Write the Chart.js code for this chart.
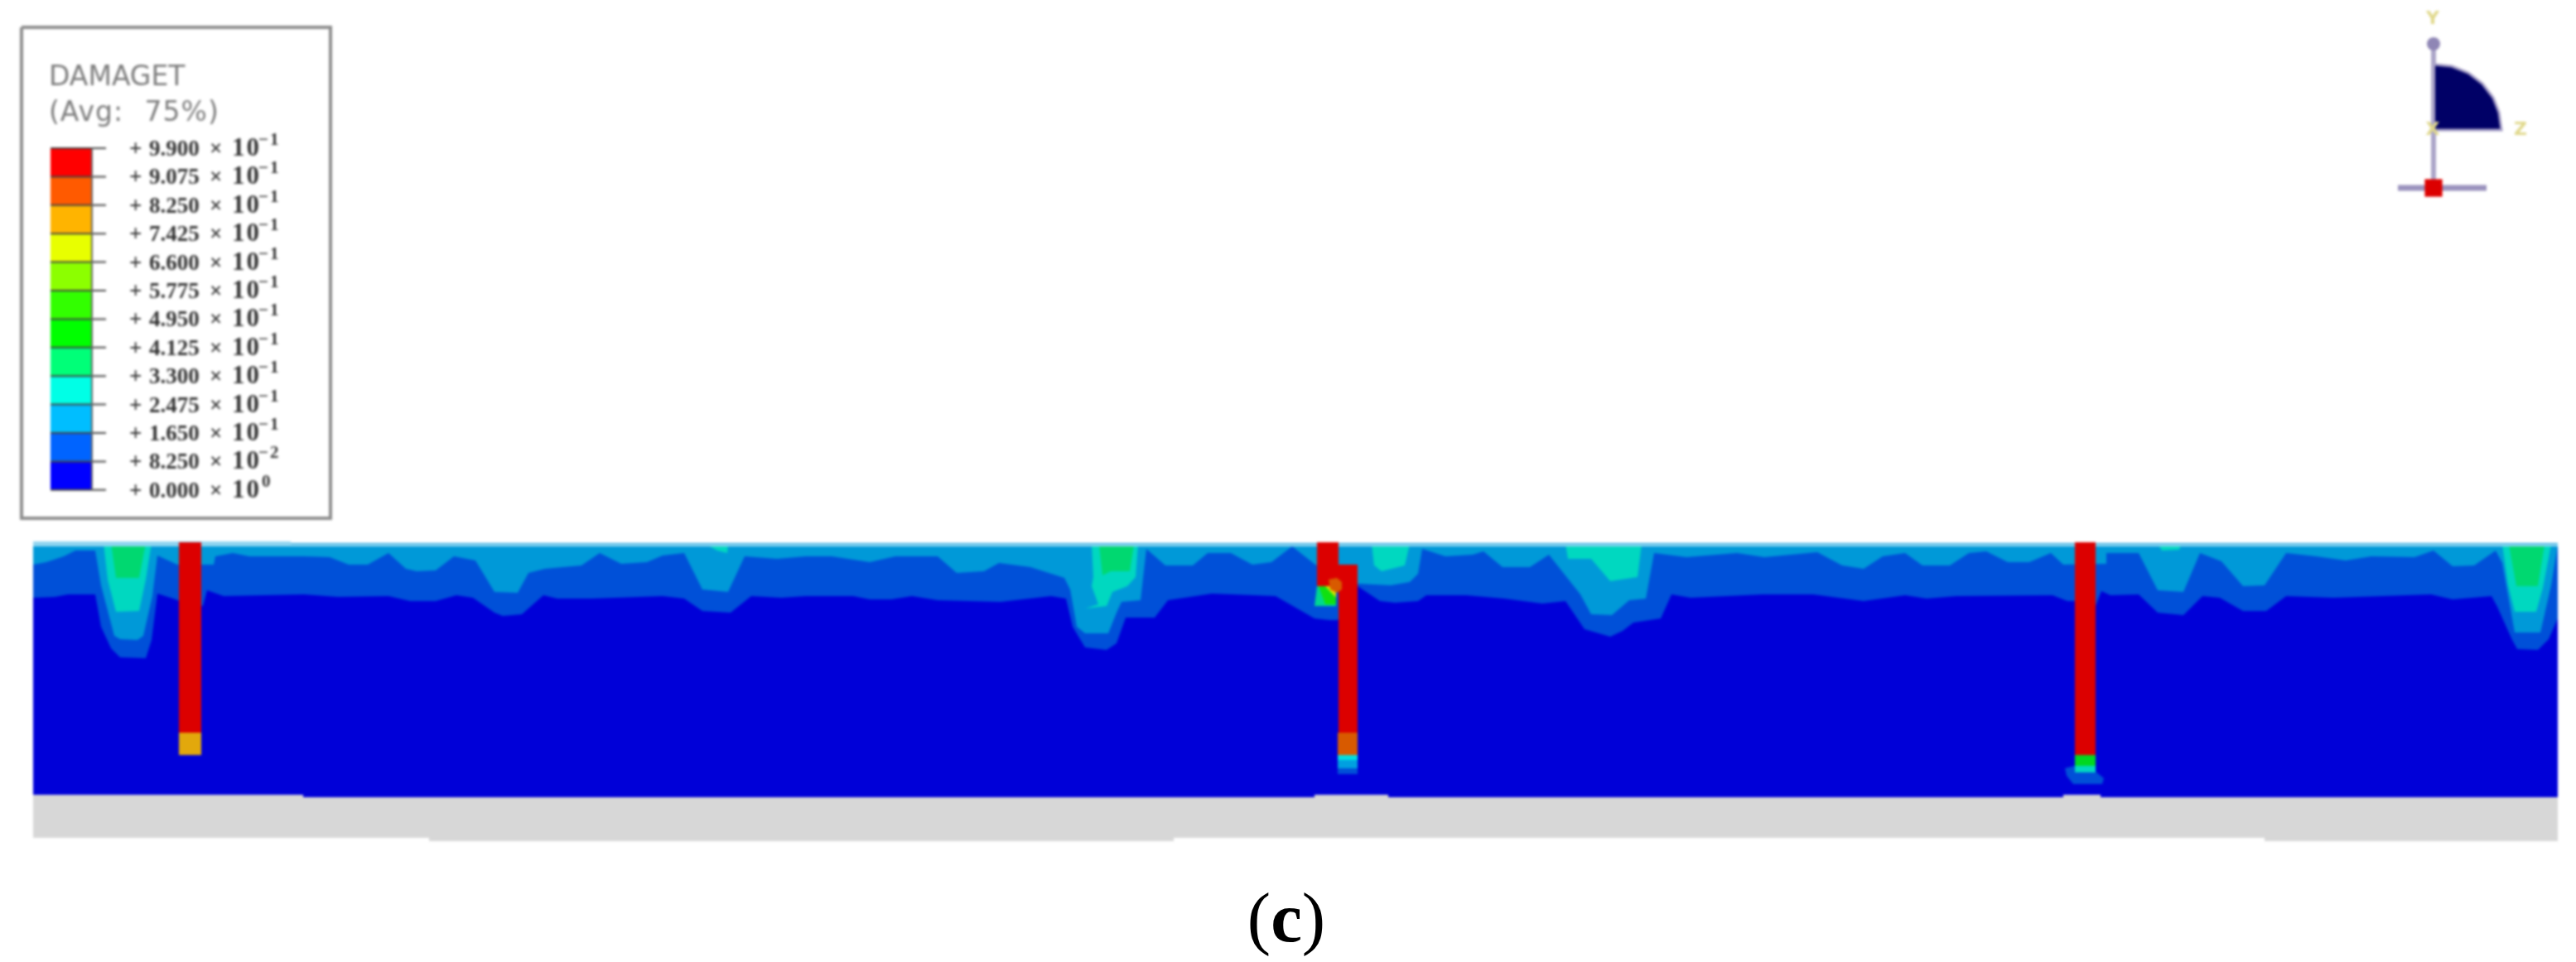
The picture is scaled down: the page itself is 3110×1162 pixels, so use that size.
<!DOCTYPE html>
<html>
<head>
<meta charset="utf-8">
<script src="https://cdn.jsdelivr.net/npm/chart.js@4/dist/chart.umd.min.js"></script>
<style>
  html, body { margin: 0; background: #fff; }
  #wrap { position: relative; width: 3110px; height: 1162px; overflow: hidden; }
  #plot { position: absolute; left: 0; top: 0; filter: blur(1.4px); }
  #caption { position: absolute; left: 1503px; top: 1060px; width: 100px; text-align: center;
    font: 85px/96px "Liberation Serif", serif; color: #000; }
</style>
</head>
<body>
<div id="wrap">
  <canvas id="plot" width="3110" height="1162"></canvas>
  <div id="caption">(<b>c</b>)</div>
</div>
<script>
// legend
const legendTitle = ['DAMAGET', '(Avg: 75%)'];
const legendMantissa = ['9.900', '9.075', '8.250', '7.425', '6.600', '5.775', '4.950', '4.125', '3.300', '2.475', '1.650', '8.250', '0.000'];
const legendExponent = ['−1', '−1', '−1', '−1', '−1', '−1', '−1', '−1', '−1', '−1', '−1', '−2', '0'];
const legendColors = ['#ff0000', '#ff5a00', '#ffb400', '#e8ff00', '#8cff00', '#32ff00', '#00ff00', '#00ff78', '#00ffe6', '#00beff', '#0064ff', '#0000ff'];

// contours as [x, y]
const mediumBottom = [[40,722],[66,721],[82,718],[115,718],[122,757],[134,783],[145,794],[176,795],[183,773],[190,717],[209,723],[217,726],[245,732],[250,713],[270,720],[367,718],[408,721],[469,720],[495,726],[526,726],[551,719],[571,722],[597,740],[607,744],[630,742],[656,719],[673,723],[714,723],[800,720],[826,723],[848,738],[882,740],[907,720],[943,722],[973,720],[1030,720],[1050,724],[1076,724],[1101,720],[1132,725],[1208,727],[1269,720],[1287,723],[1295,757],[1310,782],[1336,785],[1348,777],[1359,746],[1394,746],[1410,725],[1463,717],[1540,720],[1587,747],[1605,749],[1615,749],[1639,708],[1666,726],[1684,728],[1712,726],[1722,719],[1770,719],[1816,723],[1862,729],[1890,726],[1913,760],[1944,769],[1959,762],[1972,752],[2005,747],[2018,718],[2041,722],[2128,718],[2189,718],[2250,726],[2300,719],[2326,723],[2362,720],[2478,719],[2496,726],[2504,726],[2530,732],[2537,714],[2548,719],[2582,718],[2605,740],[2636,743],[2659,720],[2680,722],[2708,738],[2736,738],[2760,720],[2817,722],[2935,718],[2961,724],[3008,720],[3015,733],[3033,773],[3039,784],[3064,785],[3077,772],[3088,747]];
const lightBottom = [[40,682],[56,679],[77,672],[91,665],[115,665],[122,707],[138,768],[145,772],[166,773],[173,768],[184,720],[190,671],[214,682],[258,682],[260,672],[281,668],[301,672],[367,672],[398,673],[421,682],[444,682],[469,668],[490,687],[503,690],[526,689],[548,672],[574,677],[597,715],[625,716],[638,692],[658,687],[702,683],[724,668],[750,681],[781,679],[800,671],[826,668],[848,712],[879,715],[899,672],[938,675],[973,672],[1004,672],[1050,679],[1081,672],[1132,672],[1155,692],[1188,690],[1206,680],[1244,685],[1285,698],[1292,712],[1300,757],[1310,765],[1338,765],[1348,740],[1354,727],[1377,725],[1384,663],[1407,683],[1440,683],[1458,668],[1486,668],[1512,682],[1535,679],[1560,660],[1588,682],[1639,705],[1679,707],[1702,703],[1712,693],[1717,663],[1745,672],[1778,670],[1791,666],[1814,685],[1847,685],[1870,670],[1908,718],[1921,742],[1946,743],[1967,725],[1987,723],[1997,668],[2036,673],[2097,668],[2130,673],[2194,667],[2224,683],[2250,687],[2273,672],[2300,668],[2321,683],[2354,683],[2377,668],[2398,666],[2424,679],[2450,679],[2476,668],[2491,682],[2543,681],[2543,668],[2582,668],[2605,713],[2636,715],[2656,668],[2682,678],[2708,708],[2734,707],[2760,668],[2796,672],[2832,677],[2863,672],[2915,673],[2938,665],[2961,684],[2987,683],[3013,665],[3021,680],[3036,764],[3067,764],[3080,707],[3088,658]];
const tealPatches = [
  [[125,656],[183,656],[176,700],[168,738],[140,739],[130,700]],
  [[853,658],[879,658],[878,668],[866,665]],
  [[1318,658],[1374,658],[1371,697],[1361,708],[1343,715],[1336,732],[1310,735],[1326,730],[1318,708],[1320,697]],
  [[1656,657],[1702,657],[1696,683],[1668,690],[1659,683]],
  [[1890,657],[1982,657],[1977,697],[1944,702],[1921,675],[1893,675]],
  [[2606,658],[2633,658],[2631,664],[2610,665]],
  [[3021,658],[3080,658],[3070,710],[3062,739],[3036,739],[3028,707]]
];
const greenPatches = [
  [[134,656],[176,656],[168,698],[140,698]],
  [[1327,658],[1369,658],[1364,690],[1341,690],[1331,695]],
  [[3029,658],[3072,658],[3064,708],[3038,708]]
];

// body outlines
const soilBody = [[40,654],[351,654],[351,657],[3088,657],[3088,963],[2536,963],[2536,960],[2491,960],[2491,963],[1676,963],[1676,960],[1587,960],[1587,963],[366,963],[366,960],[40,960]];
const topStrip = [[40,654],[351,654],[351,657],[3088,657],[3088,660],[40,660]];
const baseSlab = [[40,958],[3088,958],[3088,1016],[2734,1016],[2734,1012],[1417,1012],[1417,1016],[518,1016],[518,1012],[40,1012]];

// piles: [x left, x right, y top, y bottom, colour]
const pileSegments = [
  [216, 243, 655, 885, '#dc0000'], [216, 243, 885, 912, '#e2a80c'],
  [1590, 1616, 655, 708, '#dc0000'], [1616, 1639, 682, 885, '#dc0000'],
  [1615, 1639, 885, 912, '#d85a00'], [1615, 1639, 912, 918, '#00e0e0'],
  [1615, 1639, 918, 928, '#00a0e0'], [1615, 1639, 928, 935, '#0050d8'],
  [2505, 2530, 655, 912, '#dc0000'], [2505, 2530, 912, 925, '#00d820'], [2505, 2530, 925, 933, '#00d8c0']
];
const pileFootBlob = [[2493,928],[2505,925],[2530,932],[2540,940],[2538,947],[2503,947],[2495,937]];
const damageKnot = [
  ['#00d890', [[1590,708],[1613,708],[1613,732],[1587,732]]],
  ['#10e010', [[1592,708],[1613,708],[1613,730],[1600,730]]],
  ['#d8e800', [[1600,708],[1613,708],[1613,722]]],
  ['#d85a00', [[1604,700],[1614,698],[1620,703],[1620,712],[1614,716],[1606,712]]]
];

// triad
const triadArm = [[2938,53],[2938,227]];
const triadBar = [[2895,227],[3002,227]];
const triadSector = [[2940,78],[2960,80],[2980,88],[2997,101],[3010,118],[3017,136],[3020,157],[2940,157]];
const triadDot = [[2938,53]];
const triadOrigin = [[2938,227]];
const triadLabels = [['Y',2937,23],['X',2937,157],['Z',3043,157]];

const pts = list => list.map(p => ({x: p[0], y: p[1]}));
const rect = (x0, x1, y0, y1) => [[x0,y0],[x1,y0],[x1,y1],[x0,y1]];
const closeUp = list => list.concat([[3088,656],[40,656]]);

function shape(list, color) {
    return {data: pts(list), showLine: true, fill: 'shape', backgroundColor: color,
        borderColor: color, borderWidth: 0, pointRadius: 0, tension: 0};
}
function stroke(list, color, width) {
    return {data: pts(list), showLine: true, fill: false, borderColor: color,
        borderWidth: width, pointRadius: 0, tension: 0, borderCapStyle: 'butt'};
}

const legendTop = 179, legendStep = 34.4;
const tickY = i => legendTop + i * legendStep;

// paint order, back to front
const layers = [];
layers.push(shape(baseSlab, '#d7d7d7'));
layers.push(shape(soilBody, '#0000d8'));
layers.push(shape(closeUp(mediumBottom), '#0050d8'));
layers.push(shape(closeUp(lightBottom), '#0099d8'));
tealPatches.forEach(p => layers.push(shape(p, '#00d8c0')));
greenPatches.forEach(p => layers.push(shape(p, '#00d870')));
layers.push(shape(topStrip, '#8fd4f0'));
layers.push(shape(pileFootBlob, '#0050d8'));
pileSegments.forEach(s => layers.push(shape(rect(s[0], s[1], s[2], s[3]), s[4])));
damageKnot.forEach(k => layers.push(shape(k[1], k[0])));

// legend box, colour cells and ticks
layers.push(stroke([[26,33],[399,33],[399,626],[26,626],[26,33]], '#8c8c8c', 4));
legendColors.forEach((c, i) => layers.push(shape(rect(61, 111, tickY(i), tickY(i + 1)), c)));
legendMantissa.forEach((m, i) => layers.push(stroke([[61,tickY(i)],[128,tickY(i)]], '#444', 2)));
layers.push(stroke([[111,tickY(0)],[111,tickY(12)]], '#666', 2));

// triad
layers.push(stroke(triadArm, '#aaa4c8', 6));
layers.push(stroke(triadBar, '#9a92bd', 7));
layers.push(Object.assign(shape(triadSector, '#000066'), {borderWidth: 3, borderColor: '#a39cc4'}));
layers.push({data: pts(triadDot), pointStyle: 'circle', pointRadius: 8, backgroundColor: '#8f86b5', borderWidth: 0});
layers.push({data: pts(triadOrigin), pointStyle: 'rect', pointRadius: 15, backgroundColor: '#dc0000', borderWidth: 0});

const textPlugin = {
    id: 'pictureText',
    afterDatasetsDraw(chart) {
        const {ctx, scales: {x, y}} = chart;
        ctx.save();
        ctx.textBaseline = 'alphabetic';
        ctx.textAlign = 'left';

        ctx.fillStyle = '#7c7c7c';
        ctx.font = '33px "DejaVu Sans"';
        ctx.fillText(legendTitle[0], x.getPixelForValue(59), y.getPixelForValue(103));
        ctx.letterSpacing = '1px';
        ctx.wordSpacing = '14px';
        ctx.fillText(legendTitle[1], x.getPixelForValue(59), y.getPixelForValue(146));
        ctx.wordSpacing = '0px';
        ctx.letterSpacing = '0px';

        ctx.fillStyle = '#333';
        legendMantissa.forEach((m, i) => {
            const base = tickY(i) + 9;
            ctx.font = 'bold 27px "Liberation Serif"';
            ctx.fillText('+', x.getPixelForValue(156), y.getPixelForValue(base));
            ctx.fillText(m, x.getPixelForValue(180), y.getPixelForValue(base));
            ctx.fillText('×', x.getPixelForValue(253), y.getPixelForValue(base));
            ctx.font = 'bold 31px "Liberation Serif"';
            ctx.letterSpacing = '2px';
            ctx.fillText('10', x.getPixelForValue(280), y.getPixelForValue(base));
            ctx.letterSpacing = '2px';
            ctx.font = 'bold 21px "Liberation Serif"';
            const e = legendExponent[i];
            ctx.fillText(e, x.getPixelForValue(e === '0' ? 316 : 312), y.getPixelForValue(base - 13));
            ctx.letterSpacing = '0px';
        });

        ctx.fillStyle = '#e0d88a';
        ctx.font = 'bold 22px "DejaVu Sans"';
        ctx.textAlign = 'center';
        ctx.textBaseline = 'middle';
        triadLabels.forEach(l => ctx.fillText(l[0], x.getPixelForValue(l[1]), y.getPixelForValue(l[2])));
        ctx.restore();
    }
};

new Chart(document.getElementById('plot'), {
    type: 'scatter',
    data: {datasets: layers.reverse()},
    plugins: [textPlugin],
    options: {
        responsive: false,
        animation: false,
        layout: {padding: 0, autoPadding: false},
        plugins: {legend: {display: false}, tooltip: {enabled: false}},
        scales: {
            x: {type: 'linear', min: 0, max: 3110, display: false},
            y: {type: 'linear', min: 0, max: 1162, reverse: true, display: false}
        }
    }
});
</script>
</body>
</html>
